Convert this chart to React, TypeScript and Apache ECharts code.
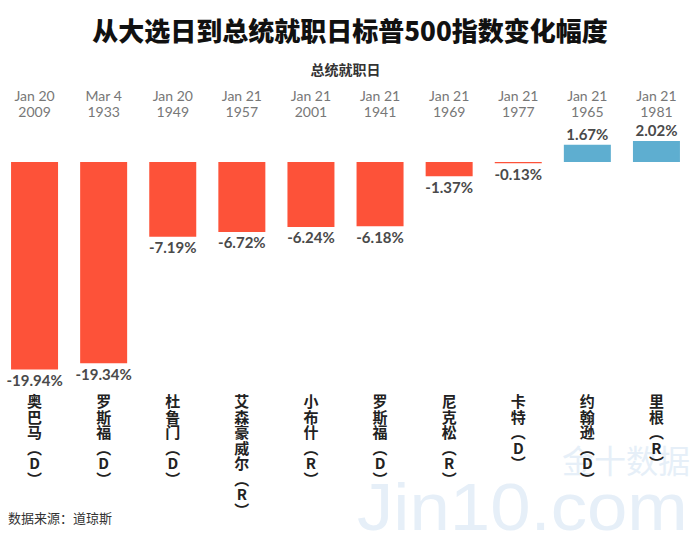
import React, { useEffect, useRef } from "react";
import * as echarts from "echarts";

const names = ["奥巴马", "罗斯福", "杜鲁门", "艾森豪威尔", "小布什", "罗斯福", "尼克松", "卡特", "约翰逊", "里根"];
const parties = ["D", "D", "D", "R", "R", "D", "R", "D", "D", "R"];
const dateMonthDay = ["Jan 20", "Mar 4", "Jan 20", "Jan 21", "Jan 21", "Jan 21", "Jan 21", "Jan 21", "Jan 21", "Jan 21"];
const dateYear = ["2009", "1933", "1949", "1957", "2001", "1941", "1969", "1977", "1965", "1981"];
const changes = [-19.94, -19.34, -7.19, -6.72, -6.24, -6.18, -1.37, -0.13, 1.67, 2.02];

const RED = "#fd5239";
const BLUE = "#5eaed0";

export default function App() {
  const ref = useRef<HTMLDivElement>(null);
  useEffect(() => {
    if (!ref.current) return;
    const chart = echarts.init(ref.current, null, { renderer: "svg" });
    const cats = names.map((n, i) => String(i));
    const nameLabel = (i: number) =>
      Array.from(names[i]).concat(["︵", parties[i], "︶"]).join("\n");
    chart.setOption({
      animation: false,
      backgroundColor: "#ffffff",
      title: {
        text: "从大选日到总统就职日标普500指数变化幅度",
        left: "center",
        top: 11,
        textStyle: {
          fontFamily: "Noto Sans CJK SC",
          fontSize: 26,
          fontWeight: 900,
          color: "#111",
        },
      },
      grid: { left: -2, right: 9, top: 130.8, height: 239.2 },
      xAxis: [
        {
          type: "category",
          data: cats,
          position: "bottom",
          axisLine: { show: false },
          axisTick: { show: false },
          axisLabel: {
            margin: 23,
            verticalAlign: "top",
            formatter: (v: string) => nameLabel(Number(v)),
            fontFamily: "Noto Sans CJK SC",
            fontSize: 15,
            fontWeight: "bold",
            color: "#222",
            lineHeight: 15.5,
          },
        },
        {
          type: "category",
          data: cats,
          position: "top",
          name: "总统就职日",
          nameLocation: "middle",
          nameGap: 55,
          nameTextStyle: {
            fontFamily: "Noto Sans CJK SC",
            fontSize: 14,
            fontWeight: "bold",
            color: "#333",
          },
          axisLine: { show: false },
          axisTick: { show: false },
          axisLabel: {
            margin: 11,
            formatter: (v: string) => `${dateMonthDay[Number(v)]}\n${dateYear[Number(v)]}`,
            fontFamily: "Lato",
            fontSize: 14,
            lineHeight: 16,
            color: "#777",
          },
        },
      ],
      yAxis: { type: "value", min: -20, max: 3, show: false },
      series: [
        {
          type: "bar",
          xAxisIndex: 0,
          barWidth: 47,
          data: changes.map((v) => ({
            value: v,
            itemStyle: { color: v < 0 ? RED : BLUE },
            label: {
              show: true,
              position: v < 0 ? "bottom" : "top",
              distance: 3,
              formatter: (p: any) => `${p.value.toFixed(2)}%`,
              fontFamily: "Lato",
              fontSize: 15,
              fontWeight: "bold",
              color: "#4a4a4a",
            },
          })),
        },
      ],
      graphic: [
        {
          type: "text",
          left: 562,
          top: 443,
          z: -10,
          style: {
            text: "金十数据",
            fontFamily: "Noto Sans CJK SC",
            fontSize: 32,
            fill: "#e6eff8",
          },
        },
        {
          type: "text",
          x: 357,
          y: 480,
          scaleX: 1.1,
          z: -10,
          style: {
            text: "Jin10.com",
            fontFamily: "Liberation Sans",
            fontSize: 66,
            lineHeight: 54,
            fill: "#e6eff8",
          },
        },
        {
          type: "text",
          left: 8,
          top: 511,
          style: {
            text: "数据来源：道琼斯",
            fontFamily: "Noto Sans CJK SC",
            fontSize: 13,
            fill: "#333",
          },
        },
      ],
    });
    return () => chart.dispose();
  }, []);
  return (
    <div
      ref={ref}
      style={{ position: "fixed", left: 0, top: 0, width: 700, height: 539 }}
    />
  );
}
